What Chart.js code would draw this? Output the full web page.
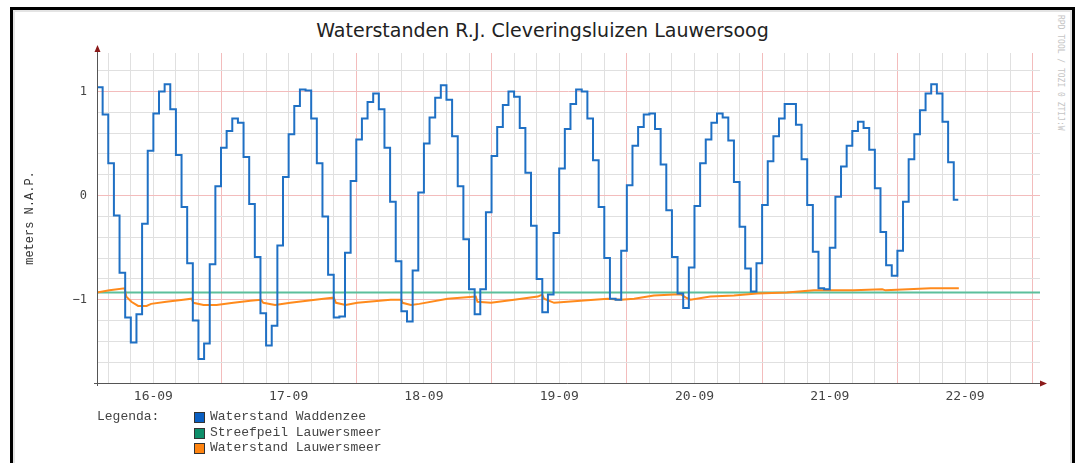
<!DOCTYPE html>
<html lang="nl">
<head>
<meta charset="UTF-8">
<title>Waterstanden R.J. Cleveringsluizen Lauwersoog</title>
<script src="https://cdn.jsdelivr.net/npm/chart.js"></script>
<style>
  body { margin:0; background:#fff; width:1077px; height:463px; overflow:hidden; position:relative; }
  #kader { position:absolute; left:10px; top:7px; width:1059px; height:470px; border:3px solid #000; box-shadow: inset 0 0 0 2px #e4e4e4; }
  #titel { position:absolute; left:13px; width:1059px; top:19px; text-align:center; font:19px 'DejaVu Sans', sans-serif; color:#222; }
  #wrap { position:absolute; left:0; top:0; width:1077px; height:463px; }
  .leg { position:absolute; font:13px 'Liberation Mono', monospace; color:#444; line-height:16px; white-space:pre; }
  .blok { position:absolute; width:9px; height:9px; border:1px solid #333; }
  #stempel { position:absolute; left:1056px; top:15px; writing-mode:vertical-rl; font:8px 'DejaVu Sans Mono', monospace; color:#c4c4c4; white-space:pre; }
</style>
</head>
<body>
  <div id="kader"></div>
  <div id="titel">Waterstanden R.J. Cleveringsluizen Lauwersoog</div>
  <div id="stempel">RPD TOOL / TOZI 0 ZTIJ:W</div>
  <div id="wrap"><canvas id="grafiek" width="1077" height="463"></canvas></div>

  <div class="leg" style="left:97px; top:409px;">Legenda:</div>
  <div class="blok" style="left:194px; top:412px; background:#0a5fc2;"></div>
  <div class="leg" style="left:210px; top:409px;">Waterstand Waddenzee</div>
  <div class="blok" style="left:194px; top:428px; background:#0e8e6a;"></div>
  <div class="leg" style="left:210px; top:425px;">Streefpeil Lauwersmeer</div>
  <div class="blok" style="left:194px; top:443px; background:#ff8410;"></div>
  <div class="leg" style="left:210px; top:440px;">Waterstand Lauwersmeer</div>

<script>
// tijd in uren vanaf 16-09 00:00
const dagLabels = ['16-09','17-09','18-09','19-09','20-09','21-09','22-09'];
const yLabels = {'-1': '\u22121', '0': '0', '1': '1'};

// uurwaarden Waddenzee (m N.A.P.), eerste waarde om 02:00 op 16-09
const startUur = 2;
const eindUur = 154.8;
const waddenzee = [
   1.04,  0.78,  0.31, -0.19, -0.74, -1.17, -1.41, -1.14, -0.27,  0.43,
   0.79,  1.00,  1.07,  0.83,  0.39, -0.11, -0.65, -1.20, -1.57, -1.42,
  -0.66,  0.09,  0.46,  0.62,  0.74,  0.70,  0.37, -0.08, -0.59, -1.13,
  -1.44, -1.25, -0.48,  0.18,  0.59,  0.86,  1.02,  1.01,  0.74,  0.31,
  -0.20, -0.76, -1.17, -1.16, -0.55,  0.14,  0.54,  0.74,  0.90,  0.98,
   0.83,  0.46, -0.06, -0.63, -1.11, -1.21, -0.72,  0.03,  0.50,  0.75,
   0.94,  1.06,  0.92,  0.57,  0.09, -0.42, -0.90, -1.14, -0.90, -0.16,
   0.38,  0.66,  0.87,  1.00,  0.95,  0.65,  0.22, -0.29, -0.80, -1.12,
  -0.95, -0.36,  0.26,  0.64,  0.88,  1.02,  1.00,  0.74,  0.34, -0.11,
  -0.60, -0.99, -1.00, -0.53,  0.10,  0.48,  0.66,  0.78,  0.79,  0.64,
   0.30, -0.14, -0.59, -0.94, -1.08, -0.69, -0.10,  0.31,  0.54,  0.70,
   0.79,  0.75,  0.53,  0.13, -0.30, -0.70, -0.92, -0.65, -0.09,  0.33,
   0.57,  0.74,  0.88,  0.88,  0.68,  0.35, -0.09, -0.54, -0.89, -0.90,
  -0.50, -0.01,  0.28,  0.48,  0.62,  0.71,  0.65,  0.44,  0.07, -0.35,
  -0.67, -0.77, -0.53, -0.06,  0.35,  0.59,  0.82,  0.98,  1.07,  0.98,
   0.71,  0.32, -0.04
];

// Lauwersmeer
const meerUren = [2, 4.2, 6.9, 7.2, 8.1, 9.3, 10.8, 11.6, 14.3, 17.3, 18.8, 19.1, 20.9, 23.2, 26.2, 29.2,
  31.1, 31.5, 33.6, 36.3, 42.2, 44.0, 44.4, 46.1, 48.2, 54.1, 56.0, 56.2, 57.7, 59.2, 64.2, 69.2,
  69.5, 71.9, 76, 80.2, 81.0, 81.3, 83.1, 87.8, 92.6, 94.9, 97.3, 100.8, 104.4, 105.6, 106.5, 107.3,
  110.8, 115, 119.1, 124.4, 129.2, 136.3, 141.3, 141.9, 149.9, 154.9];
const meerStand = [-0.93, -0.91, -0.89, -0.97, -1.02, -1.06, -1.06, -1.04, -1.02, -1.00, -0.99, -1.03, -1.05, -1.05, -1.03, -1.01,
  -1.00, -1.03, -1.05, -1.03, -0.99, -0.98, -1.03, -1.05, -1.03, -1.00, -1.00, -1.03, -1.05, -1.04, -0.99, -0.97,
  -1.02, -1.03, -1.00, -0.97, -0.95, -0.99, -1.03, -1.01, -0.99, -1.00, -0.99, -0.96, -0.95, -0.95, -0.98, -1.00,
  -0.97, -0.96, -0.94, -0.93, -0.91, -0.91, -0.90, -0.91, -0.89, -0.89];

const streefpeil = -0.93;
const xMin = 2, xMax = 169.3;
const yMin = -1.8, yMax = 1.37;

const xRaster = [];
for (let u = 4; u <= 168; u += 4) xRaster.push(u);
const yRaster = [];
for (let k = -9; k <= 6; k++) yRaster.push(k / 5);

const grijs = '#e0e0e0';
const rood = '#f3bcbc';

const waddenData = waddenzee.map((v, i) => ({x: startUur + i, y: v}));
waddenData.push({x: eindUur, y: waddenzee[waddenzee.length - 1]});

const assen = {
  id: 'assen',
  afterDraw(chart) {
    const {ctx, chartArea: a} = chart;
    ctx.save();
    ctx.strokeStyle = '#555';
    ctx.lineWidth = 1;
    ctx.beginPath();
    ctx.moveTo(a.left + 0.5, a.bottom + 3);
    ctx.lineTo(a.left + 0.5, a.top - 3);
    ctx.moveTo(a.left - 3, a.bottom + 0.5);
    ctx.lineTo(a.right + 1, a.bottom + 0.5);
    ctx.stroke();
    ctx.fillStyle = '#8b1a1a';
    ctx.beginPath();
    ctx.moveTo(a.left + 0.5, a.top - 8);
    ctx.lineTo(a.left - 2.5, a.top - 1);
    ctx.lineTo(a.left + 3.5, a.top - 1);
    ctx.fill();
    ctx.beginPath();
    ctx.moveTo(a.right + 7, a.bottom + 0.5);
    ctx.lineTo(a.right, a.bottom - 2.5);
    ctx.lineTo(a.right, a.bottom + 3.5);
    ctx.fill();
    ctx.restore();
  }
};

new Chart(document.getElementById('grafiek'), {
  type: 'line',
  data: {
    datasets: [
      { label: 'Waterstand Waddenzee', data: waddenData, stepped: true,
        borderColor: '#1f70c4', borderWidth: 2, pointRadius: 0 },
      { label: 'Waterstand Lauwersmeer', data: meerUren.map((u, i) => ({x: u, y: meerStand[i]})),
        borderColor: '#ff8a1c', borderWidth: 2, pointRadius: 0 },
      { label: 'Streefpeil Lauwersmeer', data: [{x: xMin, y: streefpeil}, {x: xMax, y: streefpeil}],
        borderColor: '#5cbf9c', borderWidth: 2, pointRadius: 0 }
    ]
  },
  options: {
    responsive: false,
    animation: false,
    layout: { padding: { left: 16, right: 37, top: 53, bottom: 50 } },
    plugins: { legend: { display: false }, tooltip: { enabled: false } },
    scales: {
      x: {
        type: 'linear', min: xMin, max: xMax,
        afterBuildTicks: s => { s.ticks = xRaster.map(v => ({value: v})); },
        afterFit: s => { s.height = 30; },
        border: { display: false },
        grid: { drawTicks: false, lineWidth: 1, color: c => (c.tick && c.tick.value % 24 === 0) ? rood : grijs },
        ticks: {
          autoSkip: false, maxRotation: 0, padding: 6, color: '#444',
          font: { family: 'DejaVu Sans Mono', size: 13 },
          callback: v => v % 24 === 12 ? dagLabels[(v - 12) / 24] : ''
        }
      },
      y: {
        type: 'linear', min: yMin, max: yMax,
        afterBuildTicks: s => { s.ticks = yRaster.map(v => ({value: v})); },
        afterFit: s => { s.width = 81; },
        border: { display: false },
        grid: { drawTicks: false, lineWidth: 1,
          color: c => (c.tick && Math.abs(c.tick.value - Math.round(c.tick.value)) < 1e-6) ? rood : grijs },
        ticks: {
          padding: 10, color: '#444',
          font: { family: 'DejaVu Sans Mono', size: 12 },
          callback: v => yLabels[String(Math.round(v * 1000) / 1000)] || ''
        },
        title: { display: true, text: 'meters N.A.P.', color: '#333',
          font: { family: 'Liberation Mono', size: 12 }, padding: { top: 7, bottom: 0 } }
      }
    }
  },
  plugins: [assen]
});
</script>
</body>
</html>
